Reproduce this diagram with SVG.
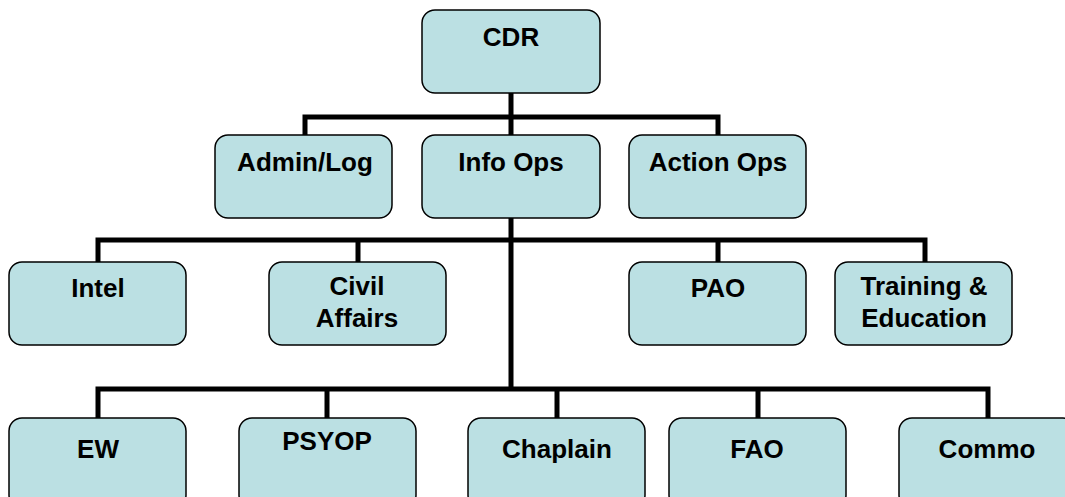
<svg xmlns="http://www.w3.org/2000/svg" width="1065" height="497" viewBox="0 0 1065 497">
<style>
.box{fill:#BBE0E3;stroke:#000;stroke-width:1.5}
.lbl{font-family:"Liberation Sans",Arial,sans-serif;font-weight:bold;font-size:26px;fill:#000;text-anchor:middle}
.conn{fill:none;stroke:#000;stroke-width:5;stroke-linejoin:miter}
</style>
<rect width="1065" height="497" fill="#fff"/>
<g id="connectors">
<path class="conn" d="M511,93 V135 M305,135 V117 H718 V135"/>
<path class="conn" d="M511,218 V389 M98,262 V240 H925 V262 M358,240 V262 M718,240 V262"/>
<path class="conn" d="M98,418 V389 H988 V418 M327,389 V418 M557,389 V418 M758,389 V418"/>
</g>
<g id="cdr"><rect class="box" x="422" y="10" width="178" height="83" rx="13"/><text class="lbl" x="511" y="46">CDR</text></g>
<g id="admin-log"><rect class="box" x="215" y="135" width="177" height="83" rx="13"/><text class="lbl" x="305" y="171">Admin/Log</text></g>
<g id="info-ops"><rect class="box" x="422" y="135" width="178" height="83" rx="13"/><text class="lbl" x="511" y="171">Info Ops</text></g>
<g id="action-ops"><rect class="box" x="629" y="135" width="177" height="83" rx="13"/><text class="lbl" x="718" y="171">Action Ops</text></g>
<g id="intel"><rect class="box" x="9" y="262" width="177" height="83" rx="13"/><text class="lbl" x="98" y="297">Intel</text></g>
<g id="civil-affairs"><rect class="box" x="269" y="262" width="177" height="83" rx="13"/><text class="lbl" x="357" y="295">Civil</text><text class="lbl" x="357" y="327">Affairs</text></g>
<g id="pao"><rect class="box" x="629" y="262" width="177" height="83" rx="13"/><text class="lbl" x="718" y="297">PAO</text></g>
<g id="training-education"><rect class="box" x="835" y="262" width="177" height="83" rx="13"/><text class="lbl" x="924" y="295">Training &amp;</text><text class="lbl" x="924" y="327">Education</text></g>
<g id="ew"><rect class="box" x="9" y="418" width="177" height="90" rx="13"/><text class="lbl" x="98" y="458">EW</text></g>
<g id="psyop"><rect class="box" x="239" y="418" width="177" height="90" rx="13"/><text class="lbl" x="327" y="450">PSYOP</text></g>
<g id="chaplain"><rect class="box" x="468" y="418" width="177" height="90" rx="13"/><text class="lbl" x="557" y="458">Chaplain</text></g>
<g id="fao"><rect class="box" x="669" y="418" width="177" height="90" rx="13"/><text class="lbl" x="757" y="458">FAO</text></g>
<g id="commo"><rect class="box" x="899" y="418" width="177" height="90" rx="13"/><text class="lbl" x="987" y="458">Commo</text></g>
</svg>
